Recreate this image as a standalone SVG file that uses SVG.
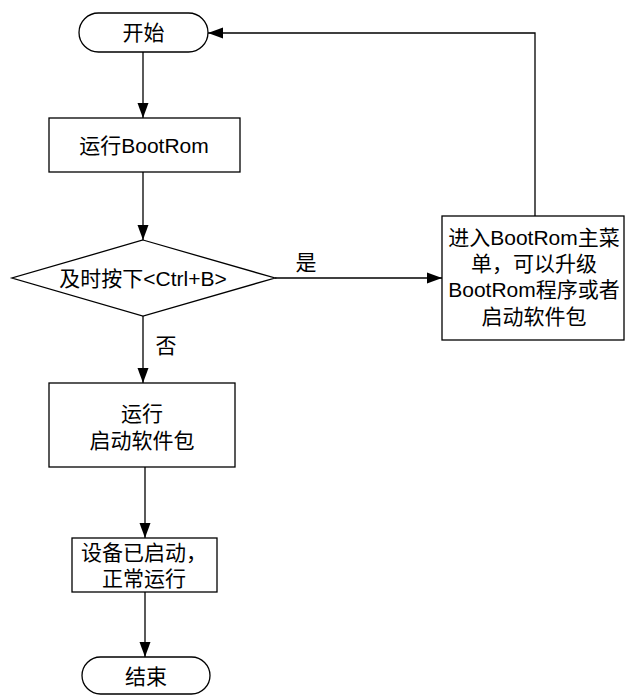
<svg xmlns="http://www.w3.org/2000/svg" width="625" height="695" viewBox="0 0 625 695">
<style>
.s{fill:#fff;stroke:#000;stroke-width:1.3}
.t{font-family:"Liberation Sans","Noto Sans CJK SC",sans-serif;font-size:21px;fill:#000;text-anchor:middle;dominant-baseline:central}
.c{fill:none;stroke:#000;stroke-width:1.3}
</style>
<defs>
<marker id="ah" markerUnits="userSpaceOnUse" markerWidth="16" markerHeight="12" refX="15" refY="6" orient="auto">
<path d="M0,0.5 L15,6 L0,11.5 Z" fill="#000"/>
</marker>
</defs>
<rect width="625" height="695" fill="#fff"/>
<g id="connectors">
<path class="c" d="M143,52 V118" marker-end="url(#ah)"/>
<path class="c" d="M143,172 V240" marker-end="url(#ah)"/>
<path class="c" d="M275,278 H442" marker-end="url(#ah)"/>
<path class="c" d="M535,216 V33 H208" marker-end="url(#ah)"/>
<path class="c" d="M143,316 V383" marker-end="url(#ah)"/>
<path class="c" d="M145,467 V538" marker-end="url(#ah)"/>
<path class="c" d="M145,592 V657" marker-end="url(#ah)"/>
<text class="t" x="306" y="262">是</text>
<text class="t" x="166" y="345">否</text>
</g>
<g id="start">
<rect class="s" x="79" y="13" width="129" height="39" rx="19.5"/>
<text class="t" x="143.5" y="32.5">开始</text>
</g>
<g id="runBootRom">
<rect class="s" x="49" y="118" width="191" height="54"/>
<text class="t" x="144" y="145">运行BootRom</text>
</g>
<g id="decision">
<path class="s" d="M143,240 L275,278 L143,316 L12,278 Z"/>
<text class="t" x="143" y="278">及时按下&lt;Ctrl+B&gt;</text>
</g>
<g id="bootMenu">
<rect class="s" x="442" y="216" width="182" height="124"/>
<text class="t" x="534" y="237">进入BootRom主菜</text>
<text class="t" x="534" y="263">单，可以升级</text>
<text class="t" x="534" y="289">BootRom程序或者</text>
<text class="t" x="534" y="316">启动软件包</text>
</g>
<g id="runApp">
<rect class="s" x="49" y="383" width="186" height="84"/>
<text class="t" x="142" y="413">运行</text>
<text class="t" x="142" y="440">启动软件包</text>
</g>
<g id="running">
<rect class="s" x="72" y="538" width="145" height="54"/>
<text class="t" x="144" y="552">设备已启动，</text>
<text class="t" x="144" y="578">正常运行</text>
</g>
<g id="end">
<rect class="s" x="82" y="657" width="128" height="37" rx="18.5"/>
<text class="t" x="146" y="676">结束</text>
</g>
</svg>
